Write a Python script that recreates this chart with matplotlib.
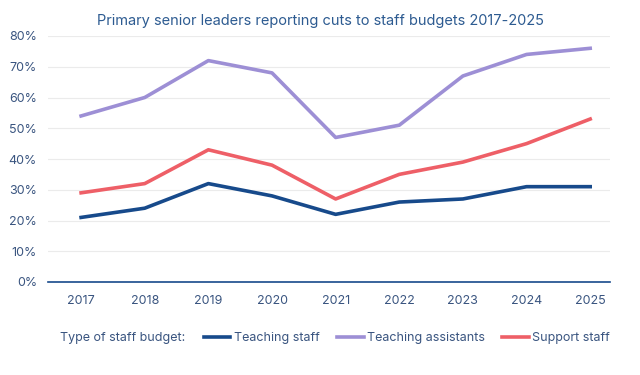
import matplotlib.pyplot as plt
from matplotlib.ticker import PercentFormatter

plt.rcParams['font.family'] = ['Inter', 'DejaVu Sans']

# Data
years = [2017, 2018, 2019, 2020, 2021, 2022, 2023, 2024, 2025]
teaching_staff = [21, 24, 32, 28, 22, 26, 27, 31, 31]
teaching_assistants = [54, 60, 72, 68, 47, 51, 67, 74, 76]
support_staff = [29, 32, 43, 38, 27, 35, 39, 45, 53]

text_col = '#3a5580'

fig = plt.figure(figsize=(6.4, 3.75), dpi=100)
ax = fig.add_axes([0.075, 0.248, 0.878, 0.656])

ax.plot(years, teaching_staff, color='#174a8b', lw=2.6, label='Teaching staff')
ax.plot(years, teaching_assistants, color='#9d8fd5', lw=2.6, label='Teaching assistants')
ax.plot(years, support_staff, color='#ee5f67', lw=2.6, label='Support staff')

ax.set_ylim(0, 80)
ax.set_xlim(2016.48, 2025.31)
ax.set_yticks(range(0, 81, 10))
ax.set_xticks(years)
ax.yaxis.set_major_formatter(PercentFormatter(decimals=0))
ax.grid(axis='y', color='#ebebeb', lw=0.8)
ax.set_axisbelow(True)
for s in ['top', 'right', 'left']:
    ax.spines[s].set_visible(False)
ax.spines['bottom'].set_color('#174a8b')
ax.spines['bottom'].set_linewidth(1.2)
ax.tick_params(length=0, labelsize=9, colors=text_col)
ax.tick_params(axis='y', pad=8)
ax.tick_params(axis='x', pad=9)

fig.text(0.5, 0.945, 'Primary senior leaders reporting cuts to staff budgets 2017-2025',
         ha='center', va='center', fontsize=10.5, color='#2d5b91')

fig.text(0.094, 0.098, 'Type of staff budget:', ha='left', va='center',
         fontsize=9, color=text_col)
fig.legend(loc='center left', bbox_to_anchor=(0.318, 0.098), ncol=3, frameon=False,
           fontsize=9, labelcolor=text_col, handlelength=2.15, handletextpad=0.25,
           columnspacing=1.4, borderaxespad=0, borderpad=0)

fig.savefig('out.png', dpi=100)
